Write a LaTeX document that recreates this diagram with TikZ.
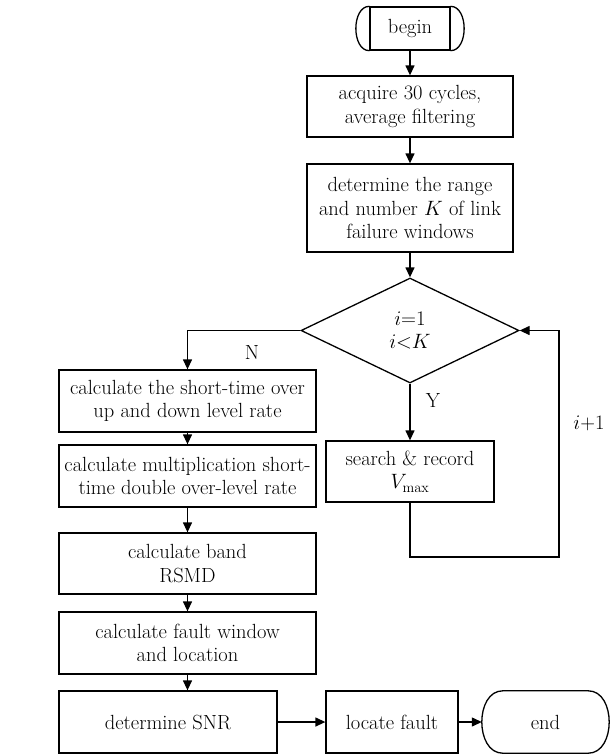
\documentclass[tikz,border=0pt]{standalone}
\usetikzlibrary{shapes.geometric,arrows.meta,calc}
\begin{document}
\begin{tikzpicture}[x=1pt,y=-1pt,
  txt/.style={font=\fontsize{20.5}{23.5}\selectfont},
  box/.style={txt,draw,line width=1.3pt,rectangle,align=center,inner sep=1pt},
  ln/.style={line width=1.3pt},
  arr/.style={ln,-{Triangle[length=10pt,width=9pt]}}]
\useasboundingbox (0,0) rectangle (611,755);
% nodes
\node[box,minimum width=80pt,minimum height=43pt] (begin) at (410,28.5) {begin};
\draw[ln] (begin.north west) .. controls +(-18,0) and +(-18,0) .. (begin.south west);
\draw[ln] (begin.north east) .. controls +(18,0) and +(18,0) .. (begin.south east);
\node[box,minimum width=206pt,minimum height=61pt] (acq) at (410,106.5) {acquire 30 cycles,\\average filtering};
\node[box,minimum width=206pt,minimum height=88pt] (det) at (410,208) {determine the range\\and number $K$ of link\\failure windows};
\node[txt,draw,ln,diamond,minimum width=218pt,minimum height=105pt,inner sep=0pt,align=center] (dec) at (410,330.5) {$i{=}1$\\$i{<}K$};
\node[box,minimum width=168pt,minimum height=61pt] (srch) at (410,471.5) {search \& record\\$V_{\mathrm{max}}$};
\node[box,minimum width=257pt,minimum height=62pt] (c1) at (187.5,401) {calculate the short-time over\\up and down level rate};
\node[box,minimum width=257pt,minimum height=62pt] (c2) at (187.5,476) {calculate multiplication short-\\time double over-level rate};
\node[box,minimum width=257pt,minimum height=61pt] (c3) at (187.5,563.5) {calculate band\\RSMD};
\node[box,minimum width=257pt,minimum height=62pt] (c4) at (187.5,643) {calculate fault window\\and location};
\node[box,minimum width=218pt,minimum height=62pt] (snr) at (168,722) {determine SNR};
\node[box,minimum width=132pt,minimum height=62pt] (loc) at (392,722) {locate fault};
\node[txt,minimum width=127pt,minimum height=62pt,inner sep=0pt] (end) at (545.5,722) {end};
\draw[ln] ($(end.north west)+(21,0)$) -- ($(end.north east)+(-21,0)$)
  .. controls +(28,0) and +(28,0) .. ($(end.south east)+(-21,0)$)
  -- ($(end.south west)+(21,0)$)
  .. controls +(-28,0) and +(-28,0) .. ($(end.north west)+(21,0)$) -- cycle;
% labels
\node[txt] (lN) at (252,352) {N};
\node[txt] (lY) at (433,400) {Y};
\node[txt] (lI) at (589,423) {$i$+1};
% connectors
\coordinate (lb) at (559,557);
\draw[arr] (begin) -- (acq);
\draw[arr] (acq) -- (det);
\draw[arr] (det) -- (dec);
\draw[arr] (dec.south) -- (srch.north);
\draw[arr] (srch.south) |- (lb) |- (dec.east);
\draw[arr] (dec.west) -| (c1.north);
\draw[arr] (c1) -- (c2);
\draw[arr] (c2) -- (c3);
\draw[arr] (c3) -- (c4);
\draw[arr] (c4.south) -- (c4.south |- snr.north);
\draw[arr] (snr) -- (loc);
\draw[arr] (loc) -- (end);
\end{tikzpicture}
\end{document}
